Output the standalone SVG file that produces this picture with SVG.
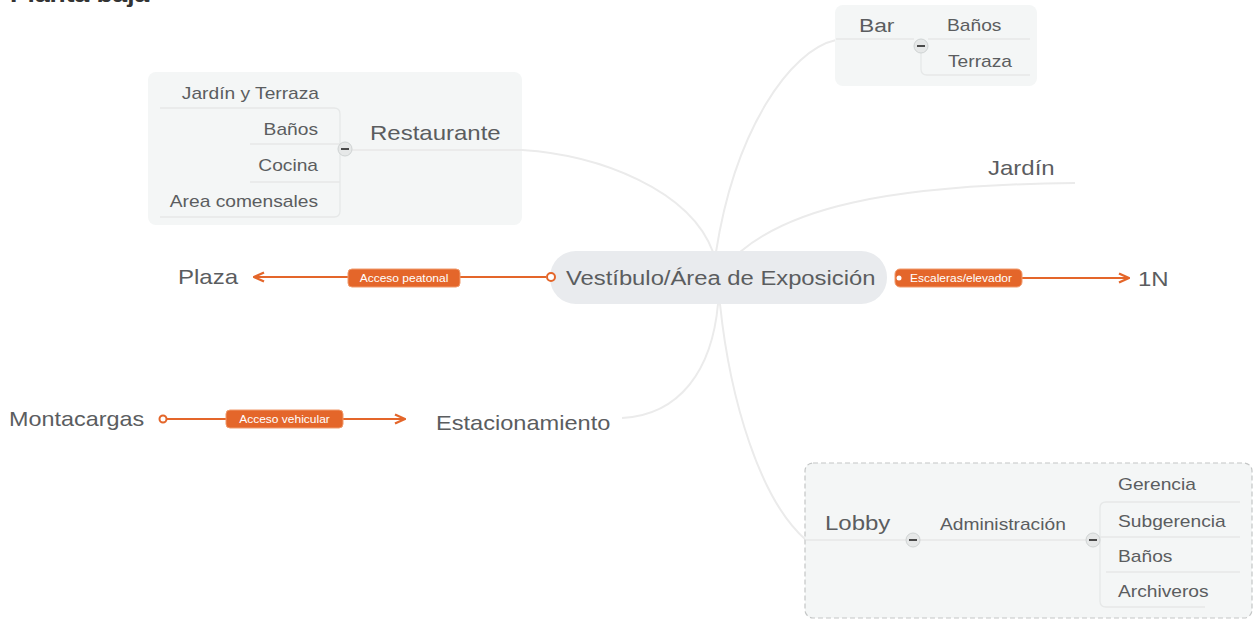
<svg xmlns="http://www.w3.org/2000/svg" width="1254" height="620" viewBox="0 0 1254 620">
<defs>
<style>
.t{font-family:"Liberation Sans",Arial,sans-serif;fill:#5b5d5f}
.big{font-size:20px}
.sm{font-size:16px}
.lbl{font-family:"Liberation Sans",Arial,sans-serif;font-size:10px;fill:#fff}
.conn{fill:none;stroke:#ebebeb;stroke-width:2}
.sub{fill:none;stroke:#e6e8e8;stroke-width:1.3}
.or{fill:none;stroke:#e4662a;stroke-width:2.2}
.pill{fill:#e4662a;stroke:#f09a6c;stroke-width:1}
.box{fill:#f4f6f6}
.mn circle{fill:#e6e8e8;stroke:#cfd3d3;stroke-width:1}
.mn line{stroke:#4a4a4a;stroke-width:2}
</style>
<marker id="ah" viewBox="0 0 12 12" refX="11" refY="6" markerWidth="12" markerHeight="12" markerUnits="userSpaceOnUse" orient="auto">
<path d="M1,1.5 L11,6 L1,10.5" fill="none" stroke="#e4662a" stroke-width="2.4" stroke-linejoin="miter"/>
</marker>
</defs>
<rect width="1254" height="620" fill="#ffffff"/>
<text transform="translate(10 2) scale(1.2 1)" font-family="Liberation Sans,Arial,sans-serif" font-size="22" font-weight="bold" fill="#333">Planta baja</text>

<g id="connectors">
<path class="conn" d="M522,150 C600,155 690,190 713,252"/>
<path class="conn" d="M716,252 C735,130 790,50 836,40"/>
<path class="conn" d="M740,252 C790,210 880,185 1075,183"/>
<path class="conn" d="M718,304 C712,370 680,415 622,418"/>
<path class="conn" d="M720,304 C730,400 760,500 806,540"/>
<path class="or" d="M546,277 L254,277" marker-end="url(#ah)"/>
<path class="or" d="M1022,278 L1129,278" marker-end="url(#ah)"/>
<path class="or" d="M166,419 L405,419" marker-end="url(#ah)"/>
</g>

<g id="restaurante">
<rect class="box" x="148" y="72" width="374" height="153" rx="8"/>
<path class="sub" d="M160,108 H334 Q340,108 340,114 V211 Q340,217 334,217 H160"/>
<path class="sub" d="M250,144 H340 M250,182 H340"/>
<path class="conn" d="M352,150 H522"/>
<text class="t big" transform="translate(370 140) scale(1.2 1)">Restaurante</text>
<g class="mn"><circle cx="345" cy="149" r="7"/><line x1="341" y1="149" x2="349" y2="149"/></g>
<text class="t sm" text-anchor="end" transform="translate(319 99) scale(1.2 1)">Jardín y Terraza</text>
<text class="t sm" text-anchor="end" transform="translate(318 135) scale(1.2 1)">Baños</text>
<text class="t sm" text-anchor="end" transform="translate(318 171) scale(1.2 1)">Cocina</text>
<text class="t sm" text-anchor="end" transform="translate(318 207) scale(1.2 1)">Area comensales</text>
</g>

<g id="bar">
<rect class="box" x="835" y="5" width="202" height="81" rx="8"/>
<path class="sub" d="M836,39 H914 M928,39 H1030 M921,53 V69 Q921,75 927,75 H1030"/>
<text class="t" font-size="19" transform="translate(859 32) scale(1.2 1)">Bar</text>
<g class="mn"><circle cx="921" cy="46" r="7"/><line x1="917" y1="46" x2="925" y2="46"/></g>
<text class="t sm" transform="translate(947 31) scale(1.2 1)">Baños</text>
<text class="t sm" transform="translate(948 67) scale(1.2 1)">Terraza</text>
</g>

<g id="jardin">
<text class="t big" transform="translate(988 175) scale(1.2 1)">Jardín</text>
</g>

<g id="vestibulo">
<rect x="550" y="251" width="337" height="53" rx="26" fill="#e9ebee"/>
<text class="t big" transform="translate(566 285) scale(1.19 1)">Vestíbulo/Área de Exposición</text>
<circle cx="551" cy="277" r="4" fill="#fff" stroke="#e4662a" stroke-width="2"/>
</g>

<g id="plaza">
<text class="t big" transform="translate(178 284) scale(1.2 1)">Plaza</text>
</g>

<g id="label-peatonal">
<rect class="pill" x="348" y="269" width="112" height="18" rx="4"/>
<text class="lbl" text-anchor="middle" transform="translate(404 282) scale(1.2 1)">Acceso peatonal</text>
</g>

<g id="label-escaleras">
<rect class="pill" x="895" y="269" width="127" height="18" rx="5"/>
<circle cx="899" cy="278" r="2.5" fill="#fff"/>
<text class="lbl" text-anchor="middle" transform="translate(961 282) scale(1.2 1)">Escaleras/elevador</text>
</g>

<g id="n1">
<text class="t big" transform="translate(1138 286) scale(1.2 1)">1N</text>
</g>

<g id="montacargas">
<text class="t big" transform="translate(9 426) scale(1.17 1)">Montacargas</text>
<circle cx="163" cy="419" r="3.5" fill="#fff" stroke="#e4662a" stroke-width="2"/>
</g>

<g id="label-vehicular">
<rect class="pill" x="226" y="410" width="117" height="18" rx="4"/>
<text class="lbl" text-anchor="middle" transform="translate(284.5 423) scale(1.2 1)">Acceso vehicular</text>
</g>

<g id="estacionamiento">
<text class="t big" transform="translate(436 430) scale(1.18 1)">Estacionamiento</text>
</g>

<g id="lobby">
<rect class="box" x="805" y="463" width="447" height="155" rx="8" stroke="#c4c6c6" stroke-width="1.2" stroke-dasharray="5,3"/>
<path class="sub" d="M806,540 H906 M920,540 H1086"/>
<path class="sub" d="M1106,502 H1240 M1100,537 H1240 M1106,572 H1240 M1106,607 H1205 M1100,508 Q1100,502 1106,502 M1100,508 V601 Q1100,607 1106,607"/>
<text class="t big" transform="translate(825 530) scale(1.2 1)">Lobby</text>
<g class="mn"><circle cx="913" cy="540" r="7"/><line x1="909" y1="540" x2="917" y2="540"/></g>
<text class="t sm" transform="translate(940 530) scale(1.2 1)">Administración</text>
<g class="mn"><circle cx="1093" cy="540" r="7"/><line x1="1089" y1="540" x2="1097" y2="540"/></g>
<text class="t sm" transform="translate(1118 490) scale(1.2 1)">Gerencia</text>
<text class="t sm" transform="translate(1118 527) scale(1.2 1)">Subgerencia</text>
<text class="t sm" transform="translate(1118 562) scale(1.2 1)">Baños</text>
<text class="t sm" transform="translate(1118 597) scale(1.2 1)">Archiveros</text>
</g>
</svg>
